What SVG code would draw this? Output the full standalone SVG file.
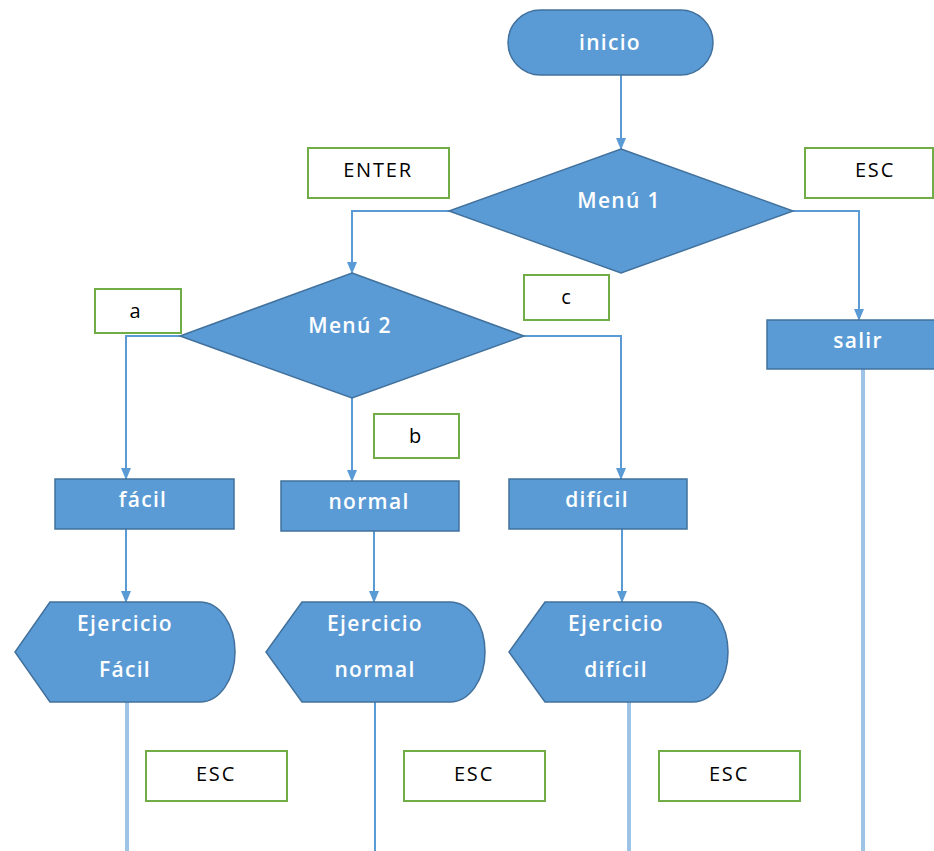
<svg xmlns="http://www.w3.org/2000/svg" width="934" height="851" viewBox="0 0 934 851">
<style>
.sh{fill:#5b9bd5;stroke:#41719c;stroke-width:1.5}
.st{font-family:"Open Sans","Noto Sans",sans-serif;font-weight:600;font-size:21px;letter-spacing:1.3px;fill:#ffffff;text-anchor:middle;dominant-baseline:central}
.lb{fill:#ffffff;stroke:#70ad47;stroke-width:2}
.lt{font-family:"Open Sans","Noto Sans",sans-serif;font-size:20px;letter-spacing:1.8px;fill:#000000;text-anchor:middle;dominant-baseline:central}
.cn{fill:none;stroke:#5b9bd5;stroke-width:2}
.tl{fill:none;stroke:#9dc3e6;stroke-width:4}
</style>
<defs>
<marker id="ah" markerWidth="12" markerHeight="10" refX="11" refY="5" orient="auto" markerUnits="userSpaceOnUse">
<path d="M0,0 L12,5 L0,10 Z" fill="#5b9bd5"/>
</marker>
</defs>
<rect width="934" height="851" fill="#ffffff"/>
<g id="connectors">
<path class="cn" d="M621,75 V149" marker-end="url(#ah)"/>
<path class="cn" d="M449,211 H352 V273" marker-end="url(#ah)"/>
<path class="cn" d="M793,211 H859 V320" marker-end="url(#ah)"/>
<path class="cn" d="M180,336 H126 V479" marker-end="url(#ah)"/>
<path class="cn" d="M352,398 V481" marker-end="url(#ah)"/>
<path class="cn" d="M524,336 H621 V479" marker-end="url(#ah)"/>
<path class="cn" d="M126,529 V602" marker-end="url(#ah)"/>
<path class="cn" d="M374,531 V602" marker-end="url(#ah)"/>
<path class="cn" d="M622,529 V602" marker-end="url(#ah)"/>
<path class="tl" d="M127,702 V851"/>
<path class="cn" d="M375,702 V851"/>
<path class="tl" d="M629,702 V851"/>
<path class="tl" d="M863,369 V851"/>
</g>
<g id="inicio">
<rect class="sh" x="508" y="10" width="205" height="65" rx="32.5"/>
<text class="st" x="610" y="42">inicio</text>
</g>
<g id="menu1">
<polygon class="sh" points="621,149 793,211 621,273 449,211"/>
<text class="st" x="619" y="200">Menú 1</text>
</g>
<g id="lbl-enter">
<rect class="lb" x="308" y="148" width="141" height="50"/>
<text class="lt" x="378" y="169">ENTER</text>
</g>
<g id="lbl-esc-top">
<rect class="lb" x="805" y="148" width="128" height="50"/>
<text class="lt" x="875" y="169">ESC</text>
</g>
<g id="salir">
<rect class="sh" x="767" y="320" width="170" height="49"/>
<text class="st" x="858" y="340">salir</text>
</g>
<g id="menu2">
<polygon class="sh" points="352,273 524,336 352,398 180,336"/>
<text class="st" x="350" y="325">Menú 2</text>
</g>
<g id="lbl-a">
<rect class="lb" x="95" y="289" width="86" height="44"/>
<text class="lt" x="136" y="310">a</text>
</g>
<g id="lbl-c">
<rect class="lb" x="524" y="275" width="85" height="45"/>
<text class="lt" x="567" y="296">c</text>
</g>
<g id="lbl-b">
<rect class="lb" x="374" y="414" width="85" height="44"/>
<text class="lt" x="416" y="435">b</text>
</g>
<g id="facil">
<rect class="sh" x="55" y="479" width="179" height="50"/>
<text class="st" x="143" y="499">fácil</text>
</g>
<g id="normal">
<rect class="sh" x="281" y="481" width="178" height="50"/>
<text class="st" x="369" y="501">normal</text>
</g>
<g id="dificil">
<rect class="sh" x="509" y="479" width="178" height="50"/>
<text class="st" x="597" y="499">difícil</text>
</g>
<g id="ej-facil">
<path class="sh" d="M50,602 H200 A35,50 0 0 1 200,702 H50 L15,652 Z"/>
<text class="st" x="125" y="623">Ejercicio</text>
<text class="st" x="125" y="669">Fácil</text>
</g>
<g id="ej-normal">
<path class="sh" d="M302,602 H450 A35,50 0 0 1 450,702 H302 L266,652 Z"/>
<text class="st" x="375" y="623">Ejercicio</text>
<text class="st" x="375" y="669">normal</text>
</g>
<g id="ej-dificil">
<path class="sh" d="M545,602 H693 A35,50 0 0 1 693,702 H545 L509,652 Z"/>
<text class="st" x="616" y="623">Ejercicio</text>
<text class="st" x="616" y="669">difícil</text>
</g>
<g id="lbl-esc-1">
<rect class="lb" x="146" y="751" width="141" height="50"/>
<text class="lt" x="216" y="773">ESC</text>
</g>
<g id="lbl-esc-2">
<rect class="lb" x="404" y="751" width="141" height="50"/>
<text class="lt" x="474" y="773">ESC</text>
</g>
<g id="lbl-esc-3">
<rect class="lb" x="659" y="751" width="141" height="50"/>
<text class="lt" x="729" y="773">ESC</text>
</g>
</svg>
